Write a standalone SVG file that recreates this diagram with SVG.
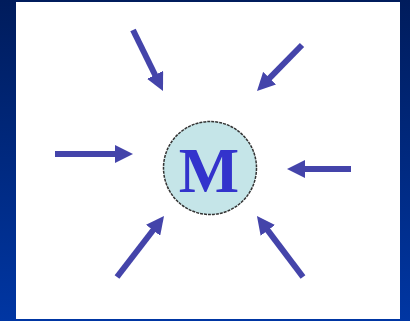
<svg xmlns="http://www.w3.org/2000/svg" width="410" height="321" viewBox="0 0 410 321">
<defs>
<linearGradient id="bg" x1="0" y1="0" x2="0" y2="1">
<stop offset="0" stop-color="#001c5c"/>
<stop offset="1" stop-color="#0036a3"/>
</linearGradient>
<marker id="ah" markerUnits="userSpaceOnUse" markerWidth="18" markerHeight="18" viewBox="0 0 18 18" refX="6" refY="9" orient="auto">
<path d="M0,0 L18,9 L0,18 z" fill="#4444aa"/>
</marker>
<style>
.arr{stroke:#4444aa;stroke-width:6;fill:none;marker-end:url(#ah)}
.node{fill:#c5e5e8;stroke:#333;stroke-width:1.5;stroke-dasharray:3 1}
.lbl{font-family:"Liberation Serif","Times New Roman",serif;font-weight:bold;font-size:64px;fill:#3333cc;text-anchor:middle}
</style>
</defs>
<rect x="0" y="0" width="410" height="321" fill="url(#bg)"/>
<rect x="16" y="2" width="384" height="317" fill="#ffffff"/>
<g id="connectors">
<line class="arr" x1="133" y1="30" x2="157.7" y2="80.2"/>
<line class="arr" x1="302" y1="45" x2="265.4" y2="82.4"/>
<line class="arr" x1="55" y1="154" x2="121" y2="154"/>
<line class="arr" x1="351" y1="169" x2="299" y2="169"/>
<line class="arr" x1="117" y1="277" x2="156.7" y2="225.5"/>
<line class="arr" x1="303" y1="277" x2="264.2" y2="225.6"/>
</g>
<g id="node-M">
<circle class="node" cx="210" cy="168" r="46.5"/>
<text class="lbl" x="209" y="191.5">M</text>
</g>
</svg>
